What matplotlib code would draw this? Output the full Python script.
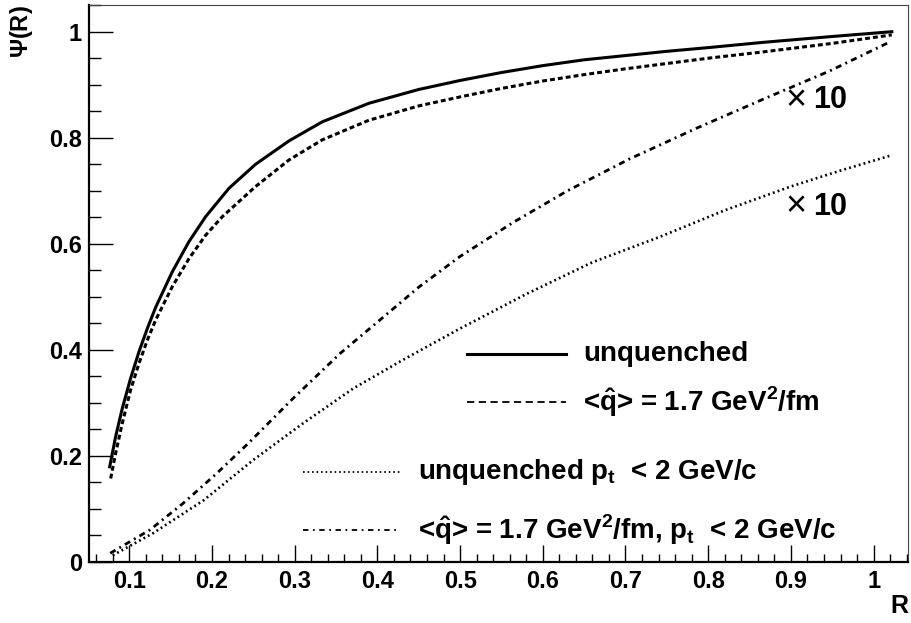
import numpy as np
import matplotlib
matplotlib.use("Agg")
import matplotlib.pyplot as plt
from matplotlib.ticker import MultipleLocator, FormatStrFormatter

plt.rcParams['font.family'] = ['Liberation Sans', 'DejaVu Sans']
plt.rcParams['font.weight'] = 'bold'
plt.rcParams['mathtext.fontset'] = 'custom'
plt.rcParams['mathtext.rm'] = 'Liberation Sans'
plt.rcParams['mathtext.bf'] = 'Liberation Sans:bold'

# curves (the two lower ones are scaled x10)
r_unq = [0.0763, 0.0835, 0.0915, 0.1016, 0.1117, 0.1218, 0.1319, 0.152, 0.1722, 0.1923,
         0.2205, 0.2528, 0.2931, 0.3334, 0.3898, 0.45, 0.50, 0.55, 0.60, 0.65, 0.70,
         0.75, 0.80, 0.867, 0.95, 1.022]
psi_unq = [0.179, 0.236, 0.289, 0.346, 0.396, 0.440, 0.480, 0.547, 0.604, 0.651,
           0.7045, 0.750, 0.794, 0.830, 0.865, 0.891, 0.908, 0.923, 0.936, 0.947, 0.955,
           0.963, 0.970, 0.980, 0.991, 1.0]

r_q = [0.0775, 0.0835, 0.0915, 0.1016, 0.1117, 0.1218, 0.1319, 0.152, 0.1722, 0.1923,
       0.2125, 0.2528, 0.2931, 0.3334, 0.3898, 0.45, 0.50, 0.55, 0.60, 0.65, 0.70,
       0.75, 0.80, 0.867, 0.95, 1.022]
psi_q = [0.157, 0.2045, 0.261, 0.324, 0.374, 0.418, 0.456, 0.519, 0.572, 0.616,
         0.651, 0.708, 0.758, 0.796, 0.833, 0.860, 0.877, 0.893, 0.907, 0.919, 0.930,
         0.940, 0.950, 0.962, 0.978, 0.994]

r_unq_pt = [0.08, 0.129, 0.19, 0.25, 0.31, 0.371, 0.43, 0.50, 0.58, 0.66, 0.74,
            0.82, 0.90, 0.96, 1.022]
psi_unq_pt = [0.012, 0.054, 0.116, 0.192, 0.261, 0.327, 0.38, 0.44, 0.505, 0.565,
              0.612, 0.663, 0.708, 0.738, 0.767]

r_q_pt = [0.077, 0.125, 0.165, 0.206, 0.245, 0.298, 0.355, 0.403, 0.45, 0.50,
          0.564, 0.63, 0.705, 0.786, 0.867, 0.947, 1.02]
psi_q_pt = [0.016, 0.060, 0.110, 0.167, 0.225, 0.308, 0.393, 0.456, 0.518, 0.576,
            0.640, 0.700, 0.760, 0.818, 0.873, 0.926, 0.981]

labels = ['unquenched',
          r'<$\mathbf{\hat{q}}$> = 1.7 GeV$^{\mathbf{2}}$/fm',
          r'unquenched p$_{\mathbf{t}}$  < 2 GeV/c',
          r'<$\mathbf{\hat{q}}$> = 1.7 GeV$^{\mathbf{2}}$/fm, p$_{\mathbf{t}}$  < 2 GeV/c']

sty_unq = dict(ls='-', lw=2.2)
sty_q = dict(ls=(0, (1.6, 1.0)), lw=2.2)
sty_unq_pt = dict(ls=(0, (0.7, 1.2)), lw=1.9)
sty_q_pt = dict(ls=(0, (2.2, 1.6, 0.7, 1.6)), lw=2.0)

fig = plt.figure(figsize=(9.12, 6.23), dpi=100)
ax = fig.add_axes([89 / 912, 1 - 561.7 / 623, 819 / 912, 556.7 / 623])

ax.plot(r_unq, psi_unq, color='k', **sty_unq)
ax.plot(r_q, psi_q, color='k', **sty_q)
ax.plot(r_unq_pt, psi_unq_pt, color='k', **sty_unq_pt)
ax.plot(r_q_pt, psi_q_pt, color='k', **sty_q_pt)

ax.set_xlim(0.0513, 1.0416)
ax.set_ylim(0, 1.0504)

ax.xaxis.set_major_locator(MultipleLocator(0.1))
ax.xaxis.set_minor_locator(MultipleLocator(0.02))
ax.yaxis.set_major_locator(MultipleLocator(0.2))
ax.yaxis.set_minor_locator(MultipleLocator(0.05))
ax.xaxis.set_major_formatter(FormatStrFormatter('%g'))
ax.yaxis.set_major_formatter(FormatStrFormatter('%g'))
ax.tick_params(axis='x', which='major', direction='in', length=12, width=1, labelsize=17, pad=6)
ax.tick_params(axis='x', which='minor', direction='in', length=6, width=1)
ax.tick_params(axis='y', which='major', direction='in', length=17, width=1, labelsize=17, pad=5)
ax.tick_params(axis='y', which='minor', direction='in', length=8.5, width=1)
ax.tick_params(top=False, right=False, which='both')

for s in ['left', 'bottom']:
    ax.spines[s].set_linewidth(1.6)
for s in ['top', 'right']:
    ax.spines[s].set_linewidth(0.8)
    ax.spines[s].set_color('#444444')

# legend drawn by hand, ROOT style
def to_ax(px, py):
    return (px - 89) / 819, (561.7 - py) / 556.7

rows = [(467, 566, 354, 583, '-', 2.2),
        (467, 566, 402, 583, (0, (4, 2.5)), 1.3),
        (303, 400, 472, 418, (0, (0.9, 1.6)), 1.3),
        (303, 400, 529.5, 418, (0, (3, 2.5, 1, 2.5)), 1.3)]
for (x0, x1, y, xt, ls, lw), lab in zip(rows, labels):
    a0, ay = to_ax(x0, y)
    a1, _ = to_ax(x1, y)
    at, _ = to_ax(xt, y)
    ax.plot([a0, a1], [ay, ay], transform=ax.transAxes, color='k',
            ls=ls, lw=lw, clip_on=False)
    ax.text(at, ay, lab, transform=ax.transAxes, fontsize=20, va='center', ha='left')

# x10 scale marks
for yv in (0.871, 0.67):
    ax.text(0.893, yv, '\u00d7', fontsize=26, fontweight='normal', va='center', ha='left')
    ax.text(0.927, yv, '10', fontsize=22, va='center', ha='left')

fig.text(22 / 912, 1 - 5 / 623, r'$\Psi$(R)', rotation=90, ha='center', va='top', fontsize=17)
fig.text(908 / 912, 1 - 606 / 623, 'R', ha='right', va='center', fontsize=18)

fig.savefig('out.png', dpi=100)
